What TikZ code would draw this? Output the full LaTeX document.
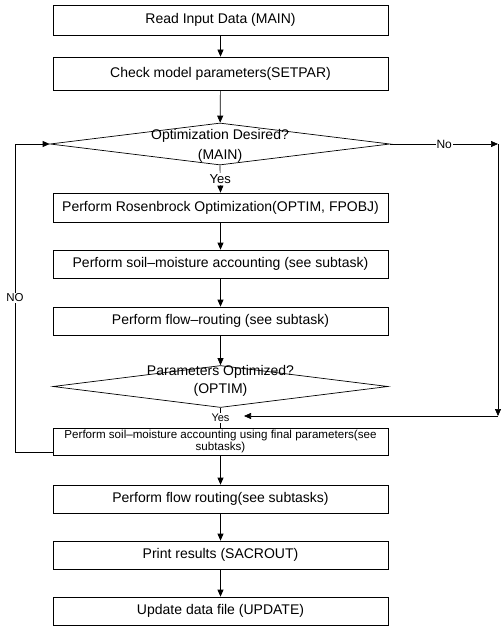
\documentclass[tikz,border=0pt]{standalone}
\usepackage{fontspec}
\setmainfont{Liberation Sans}
\usetikzlibrary{shapes.geometric,arrows.meta}
\begin{document}
\begin{tikzpicture}[x=1pt,y=-1pt,
  every node/.style={inner sep=1pt},
  box/.style={draw, line width=0.7pt, minimum width=335pt, font=\fontsize{14}{16}\selectfont},
  dia/.style={draw, diamond, line width=0.7pt, minimum width=#1, minimum height=42pt, inner sep=0pt},
  dtext/.style={align=center},
  lbl/.style={fill=white, inner sep=1pt},
  arr/.style={line width=0.7pt, -{Triangle[length=7pt,width=6pt]}},
  ln/.style={line width=0.7pt}
]
\useasboundingbox (0,0) rectangle (502,626);

\node[box, minimum height=30pt] (b1) at (220.5,20) {Read Input Data (MAIN)};
\node[box, minimum height=33pt] (b2) at (220.5,73.5) {Check model parameters(SETPAR)};
\node[dia=340pt] (d1) at (220,144) {};
\node[dtext, font=\fontsize{14}{20}\selectfont] (d1t) at (220,145.5) {Optimization Desired?\\(MAIN)};
\node[box, minimum height=29pt] (b3) at (220.5,207.5) {Perform Rosenbrock Optimization(OPTIM, FPOBJ)};
\node[box, minimum height=28pt] (b4) at (220.5,264) {Perform soil–moisture accounting (see subtask)};
\node[box, minimum height=28pt] (b5) at (220.5,321) {Perform flow–routing (see subtask)};
\node[dia=335pt] (d2) at (220.5,386.5) {};
\node[dtext, font=\fontsize{14}{18}\selectfont] (d2t) at (220.5,380.5) {Parameters Optimized?\\(OPTIM)};
\node[box, minimum height=27pt, align=center, font=\fontsize{11.6}{12}\selectfont] (b6) at (220.5,441.5) {Perform soil–moisture accounting using final parameters(see\\subtasks)};
\node[box, minimum height=28pt] (b7) at (220.5,499) {Perform flow routing(see subtasks)};
\node[box, minimum height=28pt] (b8) at (220.5,555) {Print results (SACROUT)};
\node[box, minimum height=28pt] (b9) at (220.5,611) {Update data file (UPDATE)};

\coordinate (rc1) at (498,144);
\coordinate (rc2) at (498,416);
\coordinate (yin) at (244,416);
\coordinate (lc1) at (15,452);

\draw[arr] (b1) -- (b2);
\draw[arr] (b2) -- (d1);
\draw[arr] (d1.south) -- node[lbl, font=\fontsize{13}{14}\selectfont] (yes1) {Yes} (b3.north);
\draw[arr] (b3) -- (b4);
\draw[arr] (b4) -- (b5);
\draw[arr] (b5) -- (d2);
\draw[ln] (d2.south) -- node[lbl, font=\fontsize{11}{12}\selectfont] (yes2) {Yes} (b6.north);
\draw[arr] (b6) -- (b7);
\draw[arr] (b7) -- (b8);
\draw[arr] (b8) -- (b9);

\draw[arr] (d1.east) -- node[lbl, font=\fontsize{12}{13}\selectfont] (no1) {No} (rc1);
\draw[arr] (rc1) -- (rc2);
\draw[arr] (rc2) -- (yin);

\draw[arr] (b6.west |- lc1) -- (lc1) |- node[pos=0.25, lbl, font=\fontsize{11.5}{12}\selectfont] (no2) {NO} (d1.west);
\end{tikzpicture}
\end{document}
